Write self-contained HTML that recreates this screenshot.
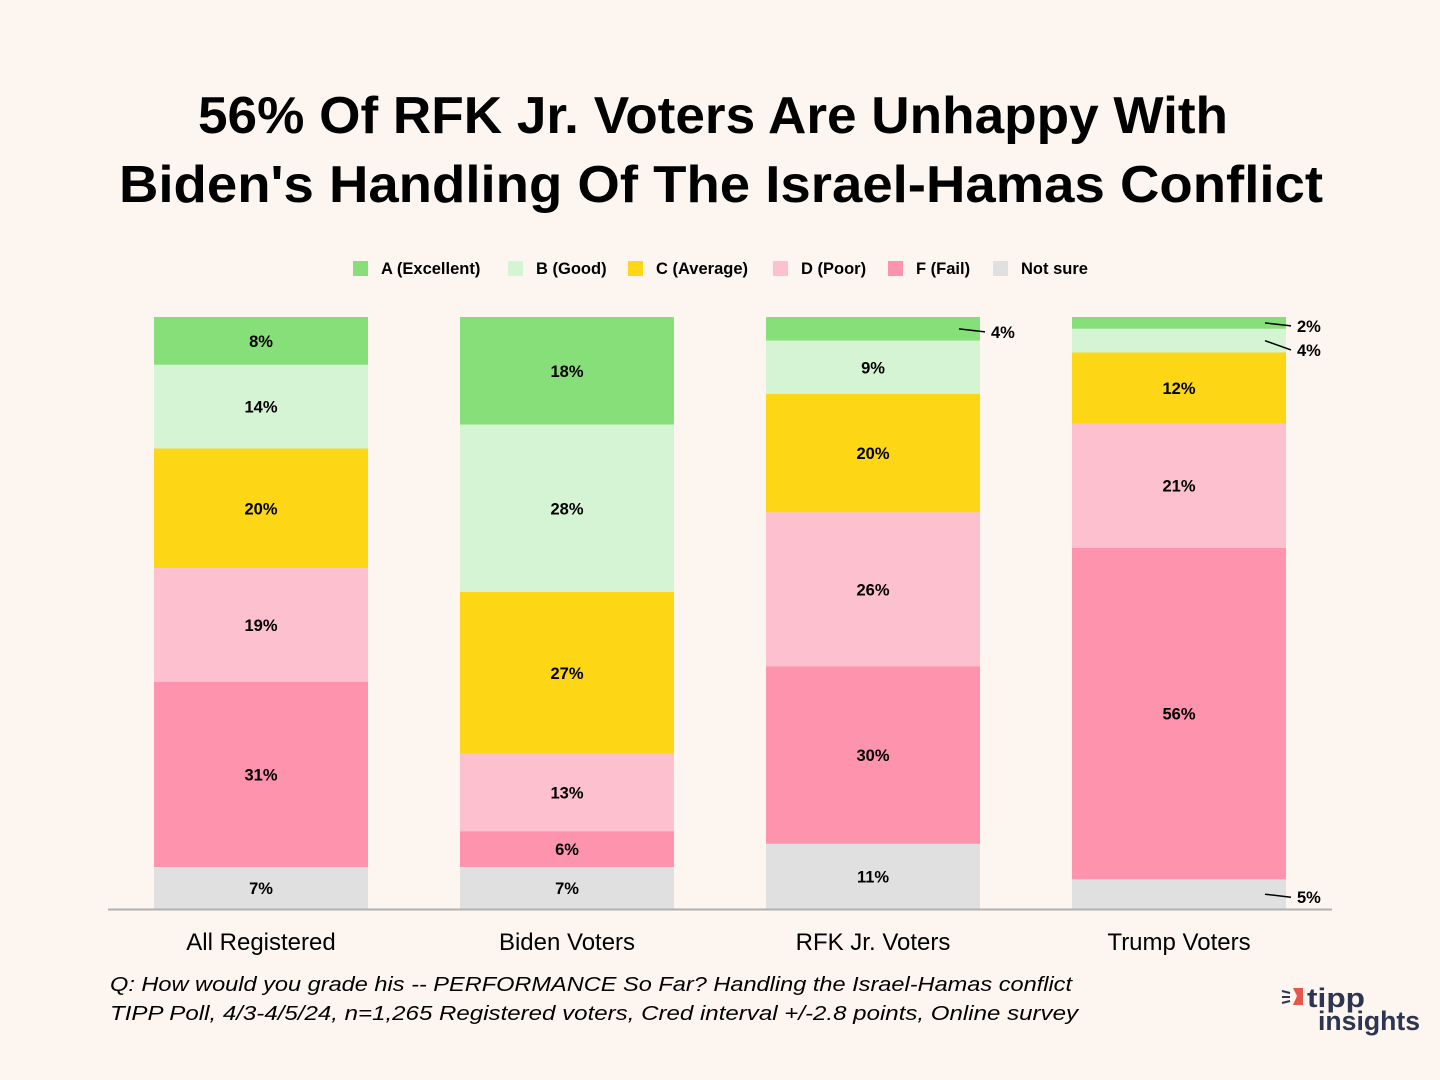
<!DOCTYPE html>
<html><head><meta charset="utf-8"><style>
body{margin:0;background:#fdf6f0;}
svg{display:block;font-family:"Liberation Sans",sans-serif;}
</style></head><body>
<svg id="chart" width="1440" height="1080" viewBox="0 0 1440 1080">
<rect width="1440" height="1080" fill="#fdf6f0"/>
<text x="713" y="133" text-anchor="middle" font-size="52" font-weight="bold" textLength="1030" lengthAdjust="spacingAndGlyphs" fill="#000">56% Of RFK Jr. Voters Are Unhappy With</text>
<text x="721" y="202" text-anchor="middle" font-size="52" font-weight="bold" textLength="1204" lengthAdjust="spacingAndGlyphs" fill="#000">Biden's Handling Of The Israel-Hamas Conflict</text>
<g id="legend"></g>
<g id="bars"></g>
<line x1="108" y1="909.5" x2="1332" y2="909.5" stroke="#b0b0b0" stroke-width="2"/>
<g id="xlabels"></g>
<text x="110" y="991" font-size="20" font-style="italic" textLength="962" lengthAdjust="spacingAndGlyphs">Q:  How would you grade his -- PERFORMANCE So Far? Handling the Israel-Hamas conflict</text>
<text x="110" y="1020" font-size="20" font-style="italic" textLength="968" lengthAdjust="spacingAndGlyphs">TIPP Poll, 4/3-4/5/24, n=1,265 Registered voters, Cred interval +/-2.8 points, Online survey</text>
<g>
<path d="M1293 988 L1303 988 L1303 1005 L1293 1005 L1297 996 Z" fill="#e8554a"/>
<line x1="1282" y1="991" x2="1290" y2="993" stroke="#2d3550" stroke-width="2"/>
<line x1="1282" y1="997" x2="1290" y2="997" stroke="#2d3550" stroke-width="2"/>
<line x1="1282" y1="1003" x2="1290" y2="1001" stroke="#2d3550" stroke-width="2"/>
<text x="1307" y="1007" font-size="27" font-weight="bold" fill="#2d3550" textLength="58" lengthAdjust="spacingAndGlyphs">tipp</text>
<text x="1318" y="1030" font-size="27" font-weight="bold" fill="#2d3550" textLength="102" lengthAdjust="spacingAndGlyphs">insights</text>
</g>
</svg>
<script>
const categories=["All Registered","Biden Voters","RFK Jr. Voters","Trump Voters"];
const seriesNames=["A (Excellent)","B (Good)","C (Average)","D (Poor)","F (Fail)","Not sure"];
const seriesA=[8,18,4,2];
const seriesB=[14,28,9,4];
const seriesC=[20,27,20,12];
const seriesD=[19,13,26,21];
const seriesF=[31,6,30,56];
const seriesNS=[7,7,11,5];
const colors=["#86df78","#d5f4d3","#fdd616","#fdc0cf","#fd93ad","#e0e0e0"];
const SVGNS="http://www.w3.org/2000/svg";
const series=[seriesA,seriesB,seriesC,seriesD,seriesF,seriesNS];
const yTop=317,yBottom=909,barW=214,x0=154,step=306;
function mk(t,a,p){const e=document.createElementNS(SVGNS,t);for(const k in a)e.setAttribute(k,a[k]);p.appendChild(e);return e;}
const leg=document.getElementById('legend');
const legX=[353,508,628,773,888,993];
seriesNames.forEach((n,i)=>{
 const r=mk('rect',{x:legX[i],y:261,width:15,height:15,fill:colors[i]},leg);
 
 
 const t=mk('text',{x:legX[i]+28,y:274,'font-size':16.5,'font-weight':'bold'},leg);
 t.textContent=n;
 
 
});
const bars=document.getElementById('bars');
const xl=document.getElementById('xlabels');
categories.forEach((c,ci)=>{
 const tot=series.reduce((s,a)=>s+a[ci],0);
 const x=x0+ci*step;
 let y=yTop;
 const outs=[];
 series.forEach((s,si)=>{
  const v=s[ci];const h=v/tot*(yBottom-yTop);
  const r=mk('rect',{x:x,y:y,width:barW,height:h,fill:colors[si]},bars);
  
  
  if(v>=6){
   const t=mk('text',{x:x+barW/2,y:y+h/2+6,'text-anchor':'middle','font-size':16.5,'font-weight':'bold'},bars);
   t.textContent=v+'%';
   
   
  } else outs.push({v:v,mid:y+h/2});
  y+=h;
 });
 let prev=-100;
 outs.forEach(o=>{
  let ly=Math.max(o.mid+3,prev+24);prev=ly;
  const l=mk('line',{x1:x+barW-21,y1:o.mid,x2:x+barW+5,y2:ly,stroke:'#000','stroke-width':1.5},bars);
  
  
  const t=mk('text',{x:x+barW+11,y:ly+6,'font-size':16.5,'font-weight':'bold'},bars);
  t.textContent=o.v+'%';
  
  
 });
 const t=mk('text',{x:x+barW/2,y:950,'text-anchor':'middle','font-size':24},xl);
 t.textContent=c;
 
 
});
</script>
</body></html>
